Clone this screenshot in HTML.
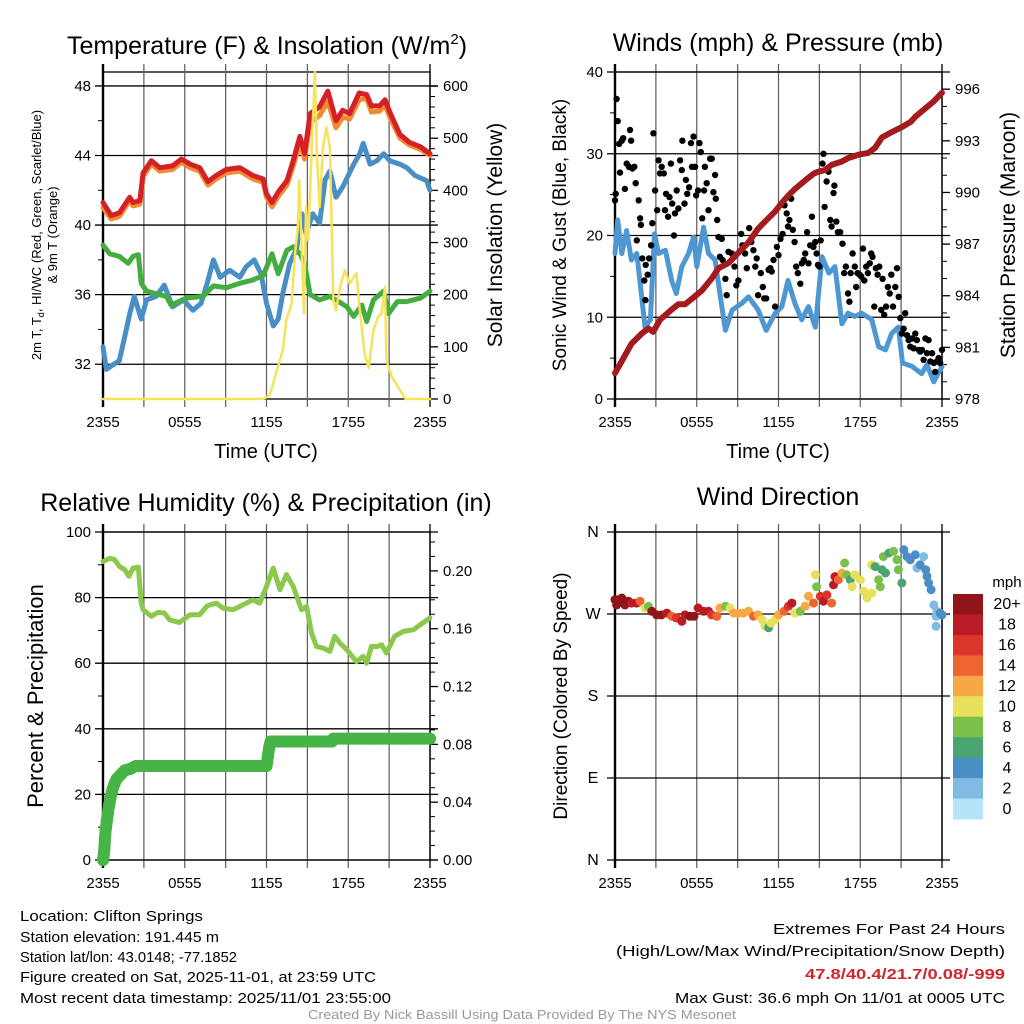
<!DOCTYPE html>
<html><head><meta charset="utf-8">
<style>
html,body{margin:0;padding:0;background:#fff;}
svg{display:block;font-family:"Liberation Sans",sans-serif;}
</style></head>
<body>
<svg id="chart" xmlns="http://www.w3.org/2000/svg" width="1024" height="1024" viewBox="0 0 1024 1024">
<rect x="0" y="0" width="1024" height="1024" fill="#fff"/>
<!-- titles -->
<text x="267" y="54" font-size="25" text-anchor="middle">Temperature (F) &amp; Insolation (W/m<tspan dy="-10" font-size="15">2</tspan><tspan dy="10">)</tspan></text>
<text x="778" y="51" font-size="25" text-anchor="middle">Winds (mph) &amp; Pressure (mb)</text>
<text x="266" y="511" font-size="25" text-anchor="middle">Relative Humidity (%) &amp; Precipitation (in)</text>
<text x="778" y="505" font-size="25" text-anchor="middle">Wind Direction</text>

<!-- axis titles -->
<text x="266" y="458" font-size="20" text-anchor="middle">Time (UTC)</text>
<text x="778" y="458" font-size="20" text-anchor="middle">Time (UTC)</text>
<text transform="translate(41,235) rotate(-90)" font-size="13" text-anchor="middle">2m T, T<tspan dy="3" font-size="9">d</tspan><tspan dy="-3">, HI/WC (Red, Green, Scarlet/Blue)</tspan></text>
<text transform="translate(57,235) rotate(-90)" font-size="13" text-anchor="middle">&amp; 9m T (Orange)</text>
<text transform="translate(502,235) rotate(-90)" font-size="21" text-anchor="middle">Solar Insolation (Yellow)</text>
<text transform="translate(566,235) rotate(-90)" font-size="19" text-anchor="middle">Sonic Wind &amp; Gust (Blue, Black)</text>
<text transform="translate(1015,235) rotate(-90)" font-size="21" text-anchor="middle">Station Pressure (Maroon)</text>
<text transform="translate(43,696) rotate(-90)" font-size="22" text-anchor="middle">Percent &amp; Precipitation</text>
<text transform="translate(567,696) rotate(-90)" font-size="19" text-anchor="middle">Direction (Colored By Speed)</text>

<!-- footer -->
<g font-size="15" fill="#000">
<text x="20" y="921" textLength="183" lengthAdjust="spacingAndGlyphs">Location: Clifton Springs</text>
<text x="20" y="942" textLength="199" lengthAdjust="spacingAndGlyphs">Station elevation: 191.445 m</text>
<text x="20" y="962" textLength="217" lengthAdjust="spacingAndGlyphs">Station lat/lon: 43.0148; -77.1852</text>
<text x="20" y="982" textLength="356" lengthAdjust="spacingAndGlyphs">Figure created on Sat, 2025-11-01, at 23:59 UTC</text>
<text x="20" y="1003" textLength="371" lengthAdjust="spacingAndGlyphs">Most recent data timestamp: 2025/11/01 23:55:00</text>
<text x="1005" y="934" text-anchor="end" textLength="232" lengthAdjust="spacingAndGlyphs">Extremes For Past 24 Hours</text>
<text x="1005" y="956" text-anchor="end" textLength="389" lengthAdjust="spacingAndGlyphs">(High/Low/Max Wind/Precipitation/Snow Depth)</text>
<text x="1005" y="979" text-anchor="end" fill="#d0262c" font-weight="bold" textLength="200" lengthAdjust="spacingAndGlyphs">47.8/40.4/21.7/0.08/-999</text>
<text x="1005" y="1003" text-anchor="end" textLength="330" lengthAdjust="spacingAndGlyphs">Max Gust: 36.6 mph On 11/01 at 0005 UTC</text>
</g>
<text x="522" y="1019" font-size="13" fill="#999" text-anchor="middle" textLength="428" lengthAdjust="spacingAndGlyphs">Created By Nick Bassill Using Data Provided By The NYS Mesonet</text>
<g id="plots"></g>
</svg>
<script>
// ---------- DATA ----------
const timeLabels = ["2355","0555","1155","1755","2355"];
const tempTicks = [32,36,40,44,48];
const insolTicks = [0,100,200,300,400,500,600];
const windTicks = [0,10,20,30,40];
const pressTicks = [978,981,984,987,990,993,996];
const rhTicks = [0,20,40,60,80,100];
const precipTicks = ["0.00","0.04","0.08","0.12","0.16","0.20"];
const dirTicks = ["N","E","S","W","N"];
const speedBins = ["0","2","4","6","8","10","12","14","16","18","20+"];
const speedColors = ["#b5e3f8","#80bbe4","#4a8ec6","#4aa570","#7cc04c","#e6e05a","#f7a845","#ef6530","#dc352b","#b91c24","#8f1519"];

const tempH = [0,0.6,1.2,1.96,2.2,2.7,2.94,3.55,4.16,5.1,5.76,6.4,7.1,7.7,8.3,9.06,10.04,11,11.76,12,12.4,12.86,13.5,13.96,14.45,14.8,15.2,15.9,16.5,17.1,17.6,18.1,18.8,19.35,19.7,20.3,20.7,21.1,21.8,22.5,23.3,24];
const tempT = [41.3,40.55,40.7,41.6,41.3,41.4,43.0,43.7,43.3,43.4,43.8,43.5,43.3,42.5,42.85,43.2,43.3,42.85,42.65,41.8,41.3,41.9,42.55,43.7,45.1,44.1,46.4,46.8,47.7,46.0,46.6,46.4,47.6,47.5,46.85,46.85,47.2,46.4,45.2,44.75,44.5,44.1];
const temp9m = [41.0,40.35,40.5,41.4,41.1,41.2,42.8,43.5,43.1,43.2,43.6,43.3,43.1,42.3,42.65,43.0,43.1,42.65,42.45,41.6,41.05,41.65,42.3,43.4,44.7,43.8,45.9,46.3,47.1,45.6,46.2,46.1,47.2,47.3,46.5,46.55,46.9,46.1,45.0,44.6,44.35,44.0];
const wcH = [0,0.25,0.6,1.2,1.6,1.96,2.3,2.8,3.2,3.9,4.5,5.1,5.9,6.6,7.2,7.7,8.1,8.6,9.3,10.04,10.5,11.1,11.6,12,12.5,12.86,13.2,13.7,14.2,14.6,14.9,15.4,15.9,16.3,16.65,17.1,17.6,18.4,18.85,19.1,19.6,20.1,20.6,21.05,21.8,22.3,22.9,23.75,24];
const wcT = [33,31.7,31.9,32.2,33.6,34.9,35.9,34.6,35.7,35.9,36.55,35.3,35.7,35.1,35.5,36.8,38,37.0,37.4,37.0,37.6,38.0,37.2,35.5,34.2,34.6,36.1,37.8,38.6,40.65,39.5,40.65,40.1,42.6,43.1,41.6,42.2,43.5,44.1,44.7,43.5,43.7,44.1,43.7,43.5,43.3,42.85,42.55,42];
const tdH = [0,0.5,1.2,1.85,2.2,2.6,2.8,3.2,4.65,5.0,6.1,7.35,8.1,9.06,10.04,11,11.76,12.4,12.86,13.5,13.96,14.45,14.8,15.2,15.9,16.65,17.1,17.9,18.4,19.0,19.35,19.85,20.6,20.95,21.6,22.3,23.3,24];
const tdT = [38.85,38.35,38.2,37.8,38.2,38.3,36.65,36.2,35.9,35.4,35.8,35.9,36.5,36.4,36.65,36.85,37.1,38.35,37.2,38.55,38.75,38.35,37.8,36.0,35.7,35.9,35.7,35.3,34.75,35.4,34.45,35.7,36.2,34.9,35.6,35.6,35.8,36.2];
const solH = [0,11.76,12.25,12.7,13.2,13.45,13.84,14.1,14.3,14.4,14.6,14.75,14.9,15.07,15.3,15.55,15.7,15.9,16.15,16.4,16.65,16.9,17.1,17.4,17.75,18.1,18.6,18.85,19.2,19.5,19.85,20.2,20.45,20.7,20.8,21.2,21.8,22.2,24];
const solW = [0,0,8,49,94,151,183,279,330,419,279,164,368,304,470,627,470,368,483,521,483,190,170,215,247,221,241,170,87,59,132,158,164,215,75,43,17,0,0];

const windH = [0,0.2,0.5,0.85,1.2,1.6,1.96,2.2,2.6,2.9,3.2,3.7,4.16,4.5,4.9,5.4,5.76,6.0,6.5,6.86,7.35,7.7,8.1,8.6,9.3,9.8,10.5,11.1,11.76,12.25,12.7,13.2,13.7,14.2,14.7,15.2,15.7,16.15,16.65,17.1,17.6,18.1,18.85,19.35,19.85,20.3,20.8,21.1,21.8,22.5,22.9,23.4,24];
const windS = [17.8,21.9,17.8,20.6,17,17.8,12.5,8.8,9.7,20.2,17.8,18.2,14.5,12.9,16.2,17.8,19.8,16.2,21,17.8,17,12.9,8.4,10.9,11.7,12.5,10.9,8.4,10.5,11.3,14.5,11.7,9.7,11.3,8.8,17.4,15.4,16.2,9.2,10.5,10.1,10.5,9.7,6.4,6.0,8.0,8.8,4.4,4.0,3.1,4.2,2.1,4.0];
const gustH = [0,0.05,0.12,0.2,0.3,0.37,0.5,0.6,0.73,0.86,1.03,1.1,1.18,1.27,1.42,1.52,1.6,1.74,1.84,1.9,2.0,2.15,2.25,2.23,2.4,2.5,2.65,2.74,2.82,2.94,3.1,3.2,3.3,3.43,3.58,3.67,3.75,3.9,4.0,4.1,4.2,4.33,4.4,4.53,4.65,4.78,4.9,4.95,5.1,5.2,5.3,5.44,5.58,5.65,5.76,5.88,5.95,6.1,6.2,6.3,6.4,6.54,6.6,6.73,6.86,6.98,7.1,7.22,7.35,7.4,7.5,7.6,7.7,7.84,7.9,8.1,8.2,8.33,8.57,8.77,8.9,9.06,9.26,9.35,9.55,9.67,9.85,10,10.16,10.3,10.4,10.5,10.7,10.85,10.95,11.1,11.27,11.4,11.5,11.63,11.75,11.88,12,12.15,12.3,12.44,12.6,12.7,12.8,12.93,13.05,13.18,13.3,13.42,13.6,13.72,13.86,13.96,14.1,14.2,14.33,14.45,14.57,14.7,14.8,14.9,15,15.1,15.23,15.3,15.38,15.53,15.67,15.8,15.9,16.04,16.1,16.24,16.36,16.53,16.7,16.82,16.95,17.1,17.2,17.3,17.44,17.6,17.7,17.8,17.95,18.07,18.2,18.3,18.44,18.56,18.7,18.8,18.9,19.03,19.15,19.27,19.4,19.54,19.64,19.76,19.9,20.03,20.16,20.28,20.4,20.57,20.7,20.82,20.94,21.06,21.18,21.3,21.43,21.55,21.67,21.8,21.92,22.04,22.16,22.3,22.4,22.53,22.65,22.78,22.9,23.02,23.14,23.27,23.4,23.5,23.63,23.75,23.87,24];
const gustS = [24.3,25.1,36.7,34,31.2,27.7,31.6,31.9,25.7,28.8,28.4,32.9,31.6,28.2,28.4,26.4,19.4,24.3,22.1,21.3,17.2,14.5,16.4,12.1,15.2,17.2,18.8,21.5,32.5,25.5,23.1,29.2,27.6,28.4,27.6,23.1,25.1,22.3,24.7,28.8,23.9,20,22.7,25.5,23.3,29.2,28,31.6,23.9,26.8,25.1,25.9,31.3,28.4,32.1,28.4,24.9,25.5,31.3,30.2,22.1,25.5,28.4,26.4,23.1,29.4,29.4,25.3,27.4,24.5,21.9,19.8,17.4,19.6,17,14.7,12.7,18,17.8,16.2,13.9,14.5,20.2,18.8,17.8,16,20.9,19.2,18.2,16.2,17.2,12.7,15.4,13.7,12.3,12.3,15.8,16,15.6,17,11.3,18.6,17.6,19.6,20.2,23.7,22.7,21.1,21.9,24.5,20.7,19.2,16.2,15.4,14.1,16.6,17,17.8,20.4,16.6,18.8,22.3,18.6,19.2,17.8,16.4,16.2,19.4,28.8,30,23.5,26.6,27.8,21.9,21.1,25.2,26.1,21.7,20.4,20.4,19,15.4,16.2,12.9,11.9,15.4,17.8,16.2,13.7,15.4,15.2,15,18.4,14.5,16.2,15.4,16.6,17.8,17.4,11.3,16,15.2,16.2,10.9,14.7,10.3,11.3,13.7,12.9,15.2,11.3,13.7,16,12.5,9.9,8,8.6,10.5,7.8,7.2,6.4,7.4,6.2,8,7.2,6,5.8,6,4.8,7.4,5.6,7.2,4.6,5.6,4.4,3.3,4.6,5,4.4,6];
const pressH = [0,0.5,1.2,1.96,2.45,2.8,3.3,4.16,4.65,5.14,5.76,6.37,7.1,7.6,8.33,9.06,9.8,10.5,11,11.76,12.25,12.7,13.2,13.96,14.6,14.9,15.4,15.9,16.65,17.1,17.9,18.6,19.1,19.6,20.3,21.05,21.7,22.05,22.8,23.4,24];
const pressP = [979.5,980.2,981.2,981.8,982.1,981.9,982.6,983.2,983.5,983.5,983.9,984.3,985.0,985.6,985.9,986.5,987.1,987.9,988.3,988.9,989.4,989.8,990.2,990.7,991.1,991.2,991.3,991.6,991.8,992.0,992.2,992.3,992.6,993.2,993.5,993.8,994.1,994.4,994.9,995.3,995.8];

const rhH = [0,0.5,0.86,1.2,1.6,1.9,2.2,2.6,2.8,2.94,3.55,4.04,4.5,4.9,5.6,6.4,7.1,7.6,7.84,8.33,8.8,9.55,10.04,10.5,11,11.5,12,12.5,12.98,13.47,13.96,14.57,14.94,15.3,15.67,16.16,16.65,17,17.4,17.9,18.6,19.1,19.35,19.7,20.1,20.45,20.8,21.4,22.04,22.8,23.27,24];
const rhV = [91,92,91.6,89.5,88.5,86.5,89,89.3,78.3,76.3,74.3,75.5,75.3,73.2,72.4,74.8,74.8,77.3,77.8,78.3,76.8,76.3,77.3,78.3,79.3,78.3,83.4,89,82.4,87,83.4,76.3,77.3,69.2,65.1,64.6,63.6,68.2,66.1,64.1,60.5,62.1,60,65.1,65.1,65.6,63.1,68.2,69.7,70.2,71.7,73.8];
const precipH = [0,0.05,0.1,0.15,0.2,0.28,0.35,0.45,0.55,0.7,0.85,1.0,1.3,1.6,2.0,2.4,4,6,8,10,12.0,12.05,12.1,12.2,12.3,14,16,16.8,16.9,18,20,22,24];
const precipV = [0,0.003,0.008,0.015,0.021,0.027,0.032,0.038,0.043,0.049,0.053,0.056,0.059,0.062,0.063,0.065,0.065,0.065,0.065,0.065,0.065,0.068,0.072,0.078,0.082,0.082,0.082,0.082,0.084,0.084,0.084,0.084,0.084];

const dirH = [0,0.12,0.25,0.5,0.73,0.98,1.22,1.6,1.84,2.2,2.45,2.7,3.06,3.4,3.8,4.16,4.5,4.9,5.14,5.5,5.8,6.1,6.5,6.86,7.1,7.47,7.7,8.1,8.45,8.7,9.06,9.4,9.8,10.16,10.5,10.8,11,11.27,11.46,11.76,12,12.4,12.73,12.98,13.2,13.6,13.96,14.2,14.57,14.7,14.8,15.07,15.3,15.55,15.9,16.04,16.15,16.4,16.65,16.85,17,17.27,17.4,17.6,18,18.25,18.5,18.85,18.85,19.1,19.35,19.47,19.6,19.85,19.7,20.1,20.45,20.7,20.8,21.06,21.2,21.43,21.67,22.04,22.16,22.4,22.65,22.8,22.9,23.02,23.2,23.4,23.57,23.63,23.57,23.87,24];
const dirD = [285.7,280,285.7,287.6,280,284,282,282,284,276.6,278.4,273,269,269,271,267.5,265.6,262,269,267.5,267.5,276.6,273,273,269,267.5,276.6,278.4,276.6,271,271,271,273,267.5,269,263.8,256.5,254.8,260,263.8,269,273,278.4,282,271,273,278.4,289.4,282,313,300,289.4,284,291,282,302,311,307.7,315,326,313,307.7,300,313,307.7,295,287.6,293,324,322,307.7,300,318.6,315,333,337,338.8,329.6,318.6,304,340.6,333,329.6,335,320.5,324,333,318.6,311.4,304,296.7,280,267.5,273,256.5,271,269];
const dirSpd = [20,20,20,20,20,20,19,18,14,10,8,20,20,20,18,14,16,18,18,20,20,18,19,18,16,14,12,8,10,12,12,12,12,14,12,10,10,6,10,10,12,14,16,18,10,8,12,12,14,10,8,16,18,16,14,18,18,14,12,8,8,6,10,10,10,10,10,10,10,6,8,8,6,6,8,6,8,8,8,6,4,4,4,4,2,4,2,4,4,4,4,2,2,2,2,4,4];

// ---------- HELPERS ----------
const NS = "http://www.w3.org/2000/svg";
const root = document.getElementById("plots");
function mk(tag, attrs, parent) {
  const e = document.createElementNS(NS, tag);
  for (const k in attrs) e.setAttribute(k, attrs[k]);
  (parent || root).appendChild(e);
  return e;
}
function lin(d0, d1, r0, r1) { return v => r0 + (v - d0) * (r1 - r0) / (d1 - d0); }

function frame(L, T, R, B, name) {
  const g = mk("g", {});
  
  
  return g;
}
function vgrid(g, L, R, T, B) {
  const xs = lin(0, 24, L, R);
  for (let i = 0; i <= 8; i++) {
    const x = xs(i * 3);
    const ln = mk("line", {x1:x, y1:T-8, x2:x, y2:B+8, stroke:(i===0||i===8)?"#000":"#666", "stroke-width":(i===0)?2.4:1.3}, g);
    
    
  }
  timeLabels.forEach((t, i) => {
    const tx = mk("text", {x:xs(i*6), y:B+28, "font-size":15, "text-anchor":"middle"}, g);
    tx.textContent = t;
    
    
  });
}
function hline(g, y, L, R, ext, name) {
  const ln = mk("line", {x1:L-ext, y1:y, x2:R+ext, y2:y, stroke:"#000", "stroke-width":1.3}, g);
  
  
}
function label(g, x, y, txt, anchor, name, size) {
  const t = mk("text", {x:x, y:y+5, "font-size":size||15, "text-anchor":anchor}, g);
  t.textContent = txt;
  
  
  return t;
}
function minorTicks(g, x, dir, ys) {
  ys.forEach(y => mk("line", {x1:x, y1:y, x2:x+dir*5, y2:y, stroke:"#000", "stroke-width":1}, g));
}
function path(g, xsArr, ysArr, sx, sy, attrs, name) {
  let d = "";
  xsArr.forEach((h, i) => { d += (i ? "L" : "M") + sx(h).toFixed(1) + "," + sy(ysArr[i]).toFixed(1); });
  const p = mk("path", Object.assign({d:d, fill:"none", "stroke-linejoin":"round", "stroke-linecap":"round"}, attrs), g);
  
  
  return p;
}

// ---------- PANEL 1 ----------
(function(){
  const L=103, R=430, T=72, B=399;
  const g = frame(L,T,R,B,"temperature-panel");
  const sx = lin(0,24,L,R), sy = lin(30,48.8,B,T), sy2 = lin(0,627,B,T);
  mk("rect",{x:L,y:T,width:R-L,height:B-T,fill:"none",stroke:"#000","stroke-width":1.3},g);
  vgrid(g,L,R,T,B);
  tempTicks.forEach(v=>{ hline(g, sy(v), L, R, 8, 'temp-grid-line'); label(g, L-12, sy(v), String(v), "end", 'temp-tick-label'); });
  minorTicks(g, L, -1, [34,38,42,46].map(sy));
  insolTicks.forEach(v=>{ mk("line",{x1:R,y1:sy2(v),x2:R+8,y2:sy2(v),stroke:"#000","stroke-width":1.3},g); label(g, R+13, sy2(v), String(v), "start", 'insolation-tick-label'); });
  const mn=[]; for(let v=20; v<620; v+=20) if(v%100) mn.push(sy2(v)); minorTicks(g, R, 1, mn);
  path(g, wcH, wcT, sx, sy, {stroke:"#4a8ec6","stroke-width":5}, 'windchill-line');
  path(g, tdH, tdT, sx, sy, {stroke:"#44ad3f","stroke-width":5}, 'dewpoint-line');
  path(g, tempH, temp9m, sx, sy, {stroke:"#f28a30","stroke-width":5}, 'temp-9m-line');
  path(g, tempH, tempT, sx, sy, {stroke:"#d42127","stroke-width":5}, 'temp-2m-line');
  path(g, solH, solW, sx, sy2, {stroke:"#f7e35a","stroke-width":2.5}, 'insolation-line');
})();

// ---------- PANEL 2 ----------
(function(){
  const L=615, R=942, T=72, B=399;
  const g = frame(L,T,R,B,"wind-pressure-panel");
  const sx = lin(0,24,L,R), sy = lin(0,40,B,T), sy2 = lin(978,997,B,T);
  mk("rect",{x:L,y:T,width:R-L,height:B-T,fill:"none",stroke:"#000","stroke-width":1.3},g);
  vgrid(g,L,R,T,B);
  windTicks.forEach(v=>{ hline(g, sy(v), L, R, 8, 'wind-grid-line'); label(g, L-12, sy(v), String(v), "end", 'wind-tick-label'); });
  minorTicks(g, L, -1, [5,15,25,35].map(sy));
  pressTicks.forEach(v=>{ mk("line",{x1:R,y1:sy2(v),x2:R+8,y2:sy2(v),stroke:"#000","stroke-width":1.3},g); label(g, R+13, sy2(v), String(v), "start", 'pressure-tick-label'); });
  const mn=[]; for(let v=979; v<997; v++) if((v-978)%3) mn.push(sy2(v)); minorTicks(g, R, 1, mn);
  path(g, windH, windS, sx, sy, {stroke:"#4f97d3","stroke-width":5}, 'sustained-wind-line');
  gustH.forEach((h,i)=>{
    const c = mk("circle",{cx:sx(h).toFixed(1), cy:sy(gustS[i]).toFixed(1), r:3.2, fill:"#000"},g);
    
    
  });
  path(g, pressH, pressP, sx, sy2, {stroke:"#a31b1d","stroke-width":6}, 'pressure-line');
})();

// ---------- PANEL 3 ----------
(function(){
  const L=103, R=430, T=532, B=860;
  const g = frame(L,T,R,B,"humidity-precip-panel");
  const sx = lin(0,24,L,R), sy = lin(0,100,B,T), sy2 = lin(0,0.2269,B,T);
  mk("rect",{x:L,y:T,width:R-L,height:B-T,fill:"none",stroke:"#000","stroke-width":1.3},g);
  vgrid(g,L,R,T,B);
  rhTicks.forEach(v=>{ hline(g, sy(v), L, R, 8, 'rh-grid-line'); label(g, L-12, sy(v), String(v), "end", 'rh-tick-label'); });
  minorTicks(g, L, -1, [10,30,50,70,90].map(sy));
  precipTicks.forEach(v=>{ const y=sy2(parseFloat(v)); mk("line",{x1:R,y1:y,x2:R+8,y2:y,stroke:"#000","stroke-width":1.3},g); label(g, R+13, y, v, "start", 'precip-tick-label'); });
  const mn=[]; for(let v=0.01; v<0.225; v+=0.01) if(Math.round(v*100)%4) mn.push(sy2(v)); minorTicks(g, R, 1, mn);
  path(g, rhH, rhV, sx, sy, {stroke:"#8cc84b","stroke-width":5}, 'humidity-line');
  path(g, precipH, precipV, sx, sy2, {stroke:"#46b447","stroke-width":12}, 'precip-line');
  precipH.forEach((h,i)=>{
    const c = mk("circle",{cx:sx(h).toFixed(1), cy:sy2(precipV[i]).toFixed(1), r:6, fill:"#46b447"},g);
    
    
  });
})();

// ---------- PANEL 4 ----------
(function(){
  const L=615, R=942, T=532, B=860;
  const g = frame(L,T,R,B,"wind-direction-panel");
  const sx = lin(0,24,L,R), sy = lin(0,360,B,T);
  mk("rect",{x:L,y:T,width:R-L,height:B-T,fill:"none",stroke:"#000","stroke-width":1.3},g);
  vgrid(g,L,R,T,B);
  dirTicks.forEach((t,i)=>{ const y=sy(i*90); hline(g, y, L, R, 8, 'direction-grid-line'); label(g, L-22, y, t, "middle", 'direction-tick-label', 16); });
  dirH.forEach((h,i)=>{
    const idx = Math.min(10, Math.floor(dirSpd[i]/2));
    const c = mk("circle",{cx:sx(h).toFixed(1), cy:sy(dirD[i]).toFixed(1), r:4.5, fill:speedColors[idx]},g);
    
    
  });
  // colorbar
  const cb = mk("g",{},g);
  
  
  const cT=594, cB=819, h=(cB-cT)/speedBins.length;
  speedBins.forEach((lab,i)=>{
    const k = speedBins.length-1-i;
    const r = mk("rect",{x:953,y:(cT+i*h).toFixed(1),width:30,height:(h+0.5).toFixed(1),fill:speedColors[k]},cb);
    
    
    label(cb, 1007, cT+i*h+h/2, speedBins[k], "middle", 'colorbar-label', 16);
  });
  label(cb, 1007, 582, "mph", "middle", 'colorbar-unit', 15);
})();
</script>
</body></html>
